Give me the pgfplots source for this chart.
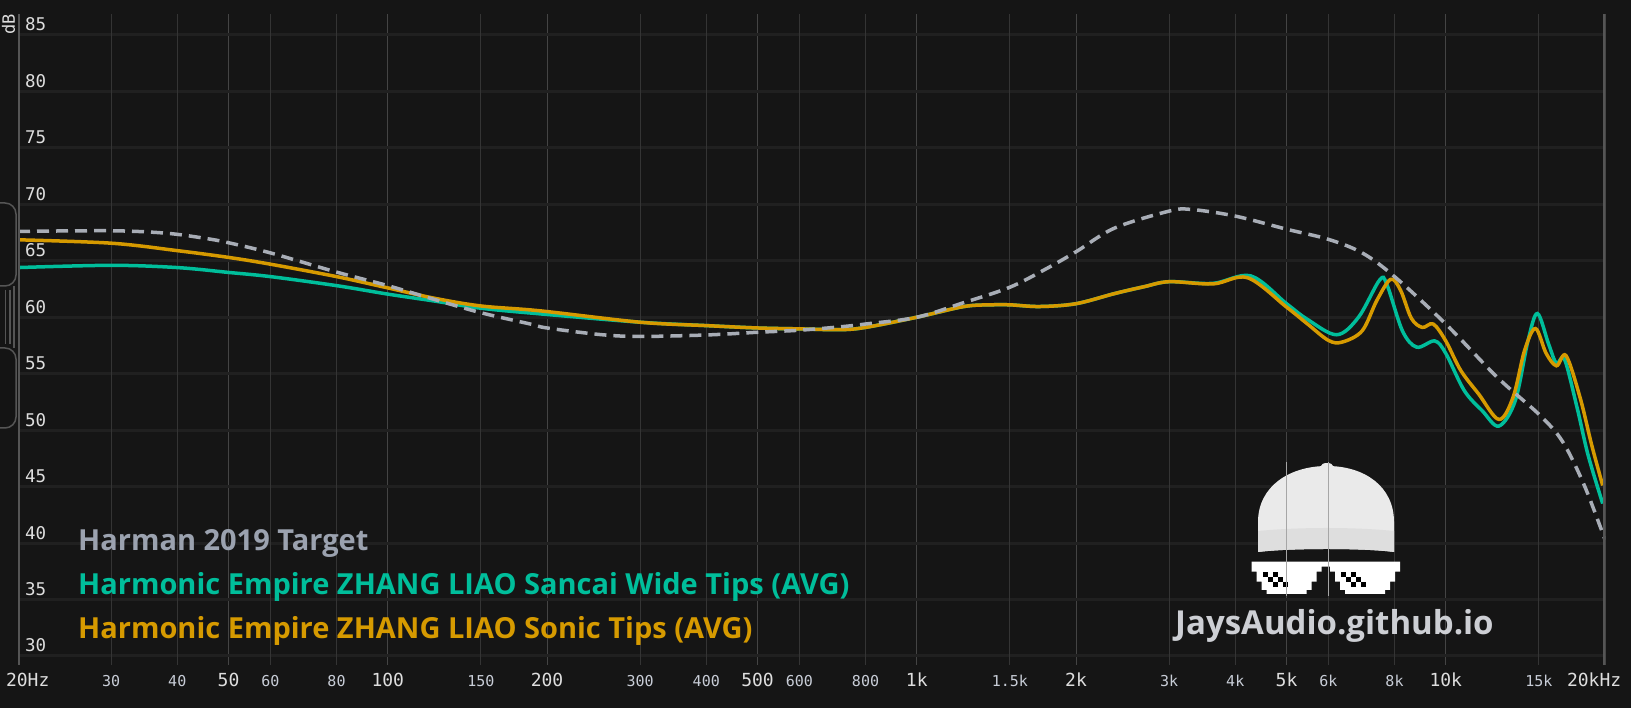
\documentclass[border=0pt]{standalone}
\usepackage{pgfplots}
\pgfplotsset{compat=1.18}
\usepackage{fontspec}
\setmainfont{Open Sans}
\newfontfamily\mono{DejaVu Sans Mono}
\definecolor{bg}{RGB}{21,21,21}
\definecolor{hgrid}{RGB}{32,32,32}
\definecolor{vgridmin}{RGB}{52,52,52}
\definecolor{vgridmaj}{RGB}{68,68,68}
\definecolor{border}{RGB}{85,85,85}
\definecolor{teal}{RGB}{0,190,155}
\definecolor{gold}{RGB}{214,154,0}
\definecolor{harman}{RGB}{168,173,182}
\definecolor{harmantext}{RGB}{155,162,175}
\definecolor{ticklab}{RGB}{222,222,222}
\definecolor{minlab}{RGB}{200,205,215}
\definecolor{capwhite}{RGB}{234,234,234}
\definecolor{capshade}{RGB}{222,222,222}
\definecolor{wm}{RGB}{205,207,212}

\pgfplotstableread{
f db
20 67.6
30 67.66
38 67.45
45 67.0
50 66.6
60 65.7
80 64.0
100 62.8
122 61.6
150 60.4
186 59.4
200 59.05
253 58.46
300 58.3
400 58.43
500 58.67
600 58.85
716 59.15
800 59.4
1000 60.0
1228 61.3
1500 62.66
1758 64.3
2000 65.8
2366 67.9
3000 69.4
3300 69.55
4000 68.96
5000 67.8
6000 66.9
6950 65.7
8000 63.6
10000 59.4
12500 54.7
15000 51.4
16620 49.0
18280 45.1
20000 40.3
}\harmantab

\pgfplotstableread{
f db
20 64.4
30 64.6
40 64.4
50 63.97
60 63.6
80 62.8
100 62.05
122 61.45
150 60.8
194 60.3
300 59.56
400 59.26
500 59.05
600 58.97
716 58.9
800 59.1
1000 60.0
1228 60.95
1384 61.1
1500 61.1
1707 60.95
2000 61.2
2366 62.1
2687 62.7
3000 63.15
3630 63.0
4280 63.66
5000 61.2
5480 59.8
6220 58.45
6840 60.0
7500 63.3
7740 62.9
8280 58.8
8810 57.35
9530 57.9
10000 56.8
10840 53.5
11730 51.7
12600 50.36
13530 52.6
14300 57.9
14900 60.33
15640 57.65
16190 55.9
16760 56.3
17710 52.0
18580 47.8
19800 43.5
}\tealtab

\pgfplotstableread{
f db
20 66.86
30 66.56
40 65.9
50 65.3
60 64.7
80 63.6
100 62.6
122 61.7
150 61.0
194 60.57
300 59.56
400 59.26
500 59.05
600 58.97
716 58.9
800 59.1
1000 60.0
1228 60.95
1384 61.1
1500 61.1
1707 60.95
2000 61.2
2366 62.1
2687 62.7
3000 63.15
3630 62.95
4220 63.5
5000 60.9
5480 59.4
6000 57.95
6370 57.8
6950 58.8
7410 61.5
7870 63.36
8212 62.4
8610 59.9
9030 59.1
9470 59.4
10000 57.9
10670 55.3
11540 53.2
12600 50.95
13400 52.9
14100 57.1
14780 59.0
15480 56.8
16190 55.7
16880 56.6
17940 52.9
18870 48.7
19800 45.1
}\goldtab

\begin{document}
\begin{tikzpicture}[x=1pt,y=1pt]
\fill[bg] (0,0) rectangle (1631,708);
\path[use as bounding box] (0,0) rectangle (1631,708);

% pixel-space scope (y downward): left slider decoration
\begin{scope}[shift={(0,708)}, yscale=-1]
  \begin{scope}
    \clip (0,0) rectangle (1631,708);
    \draw[border, line width=1.5pt, fill=black!92, rounded corners=11pt] (-14,203) rectangle (16,286);
    \draw[border, line width=1.5pt, fill=black!92, rounded corners=11pt] (-14,348) rectangle (16,428);
    \draw[border, line width=1.2pt] (5.5,290) -- (5.5,344);
    \draw[border, line width=1.2pt] (10,290) -- (10,344);
    \draw[border, line width=2pt] (13.5,286) -- (13.5,348);
  \end{scope}
\end{scope}

\begin{axis}[
  at={(18pt,43pt)}, anchor=south west,
  scale only axis, width=1587pt, height=651pt,
  xmode=log, xmin=20, xmax=20000, ymin=29.2, ymax=86.86,
  axis line style={draw=none},
  tick style={draw=none}, major tick length=0pt,
  xmajorgrids, ymajorgrids,
  x grid style={vgridmaj, line width=1pt},
  y grid style={hgrid, line width=3pt},
  xtick={20,50,100,200,500,1000,2000,5000,10000,20000},
  xticklabels={\makebox[0pt][l]{\hspace{-12pt}20Hz},50,100,200,500,1k,2k,5k,10k,\makebox[0pt][l]{\hspace{-38pt}20kHz}},
  xticklabel style={anchor=base, yshift=-22pt, font=\mono\fontsize{18}{20}\selectfont, text=ticklab},
  extra x ticks={30,40,60,80,150,300,400,600,800,1500,3000,4000,6000,8000,15000},
  extra x tick labels={30,40,60,80,150,300,400,600,800,1.5k,3k,4k,6k,8k,15k},
  extra x tick style={xmajorgrids, x grid style={vgridmin, line width=1pt},
     xticklabel style={font=\mono\fontsize{15}{17}\selectfont, text=minlab}},
  ytick={30,35,40,45,50,55,60,65,70,75,80,85},
  yticklabels={30,35,40,45,50,55,60,65,70,75,80,85},
  yticklabel style={anchor=base west, inner sep=0pt, xshift=7pt, yshift=4pt, font=\mono\fontsize{17.5}{19}\selectfont, text=ticklab},
  clip=true,
]
\addplot[teal, line width=3.5pt, smooth, tension=0.55] table[x=f, y=db] {\tealtab};
\addplot[gold, line width=3.5pt, smooth, tension=0.55] table[x=f, y=db] {\goldtab};
\addplot[harman, line width=3.5pt, dash pattern=on 12pt off 7pt, smooth, tension=0.55] table[x=f, y=db] {\harmantab};
\draw[border, line width=3.5pt] (rel axis cs:0,0) -- (rel axis cs:0,1);
\draw[border, line width=3.5pt] (rel axis cs:1,0) -- (rel axis cs:1,1);
\end{axis}

\begin{scope}[shift={(0,708)}, yscale=-1]
  % cap logo
  \fill[capwhite] (1258,552) -- (1258,522) .. controls (1258,486) and (1290,466) .. (1327,466)
     .. controls (1364,466) and (1394,486) .. (1394,522) -- (1394,552)
     .. controls (1365,548) and (1289,548) .. (1258,552) -- cycle;
  \fill[capwhite] (1327,466) ellipse (6 and 3);
  \fill[capshade] (1258,552) -- (1258,531) .. controls (1300,527) and (1354,527) .. (1394,531) -- (1394,552)
     .. controls (1365,548) and (1289,548) .. (1258,552) -- cycle;
  % glasses
  \fill[white] (1251.7,561.7) -- (1400,561.7) -- (1400,571.7) -- (1395,571.7) -- (1395,581.7)
    -- (1390,581.7) -- (1390,590) -- (1385,590) -- (1385,594) -- (1345,594) -- (1345,590)
    -- (1340,590) -- (1340,581.7) -- (1335,581.7) -- (1335,571.7) -- (1330,571.7) -- (1330,566.7)
    -- (1321.7,566.7) -- (1321.7,571.7) -- (1316.7,571.7) -- (1316.7,581.7) -- (1311.7,581.7)
    -- (1311.7,590) -- (1306.7,590) -- (1306.7,594) -- (1266.7,594) -- (1266.7,590)
    -- (1261.7,590) -- (1261.7,581.7) -- (1256.7,581.7) -- (1256.7,571.7) -- (1251.7,571.7) -- cycle;
  \foreach \ox in {1263,1341}{
    \fill[black] (\ox,572) rectangle ++(5,5);
    \fill[black] (\ox+10,572) rectangle ++(5,5);
    \fill[black] (\ox+5,577) rectangle ++(5,5);
    \fill[black] (\ox+15,577) rectangle ++(5,5);
    \fill[black] (\ox+10,582) rectangle ++(5,5);
    \fill[black] (\ox+20,582) rectangle ++(5,5);
  }
  % vertical grid lines showing through the logo
  \draw[black!35, line width=0.8pt] (1286.5,462) -- (1286.5,596);
  \draw[black!35, line width=0.8pt] (1328.4,462) -- (1328.4,596);

  \node[anchor=base west, inner sep=0pt, text=harmantext, font=\bfseries\fontsize{29}{31}\selectfont] at (78,551) {Harman 2019 Target};
  \node[anchor=base west, inner sep=0pt, text=teal, font=\bfseries\fontsize{29}{31}\selectfont] at (78,595) {Harmonic Empire ZHANG LIAO Sancai Wide Tips (AVG)};
  \node[anchor=base west, inner sep=0pt, text=gold, font=\bfseries\fontsize{29}{31}\selectfont] at (78,639) {Harmonic Empire ZHANG LIAO Sonic Tips (AVG)};
  \node[anchor=base west, inner sep=0pt, text=wm, font=\bfseries\fontsize{33}{35}\selectfont] at (1175,635) {JaysAudio.github.io};
  \node[rotate=90, inner sep=0pt, text=ticklab, font=\mono\fontsize{17}{17}\selectfont] at (8.5,24.5) {dB};
\end{scope}
\end{tikzpicture}
\end{document}
